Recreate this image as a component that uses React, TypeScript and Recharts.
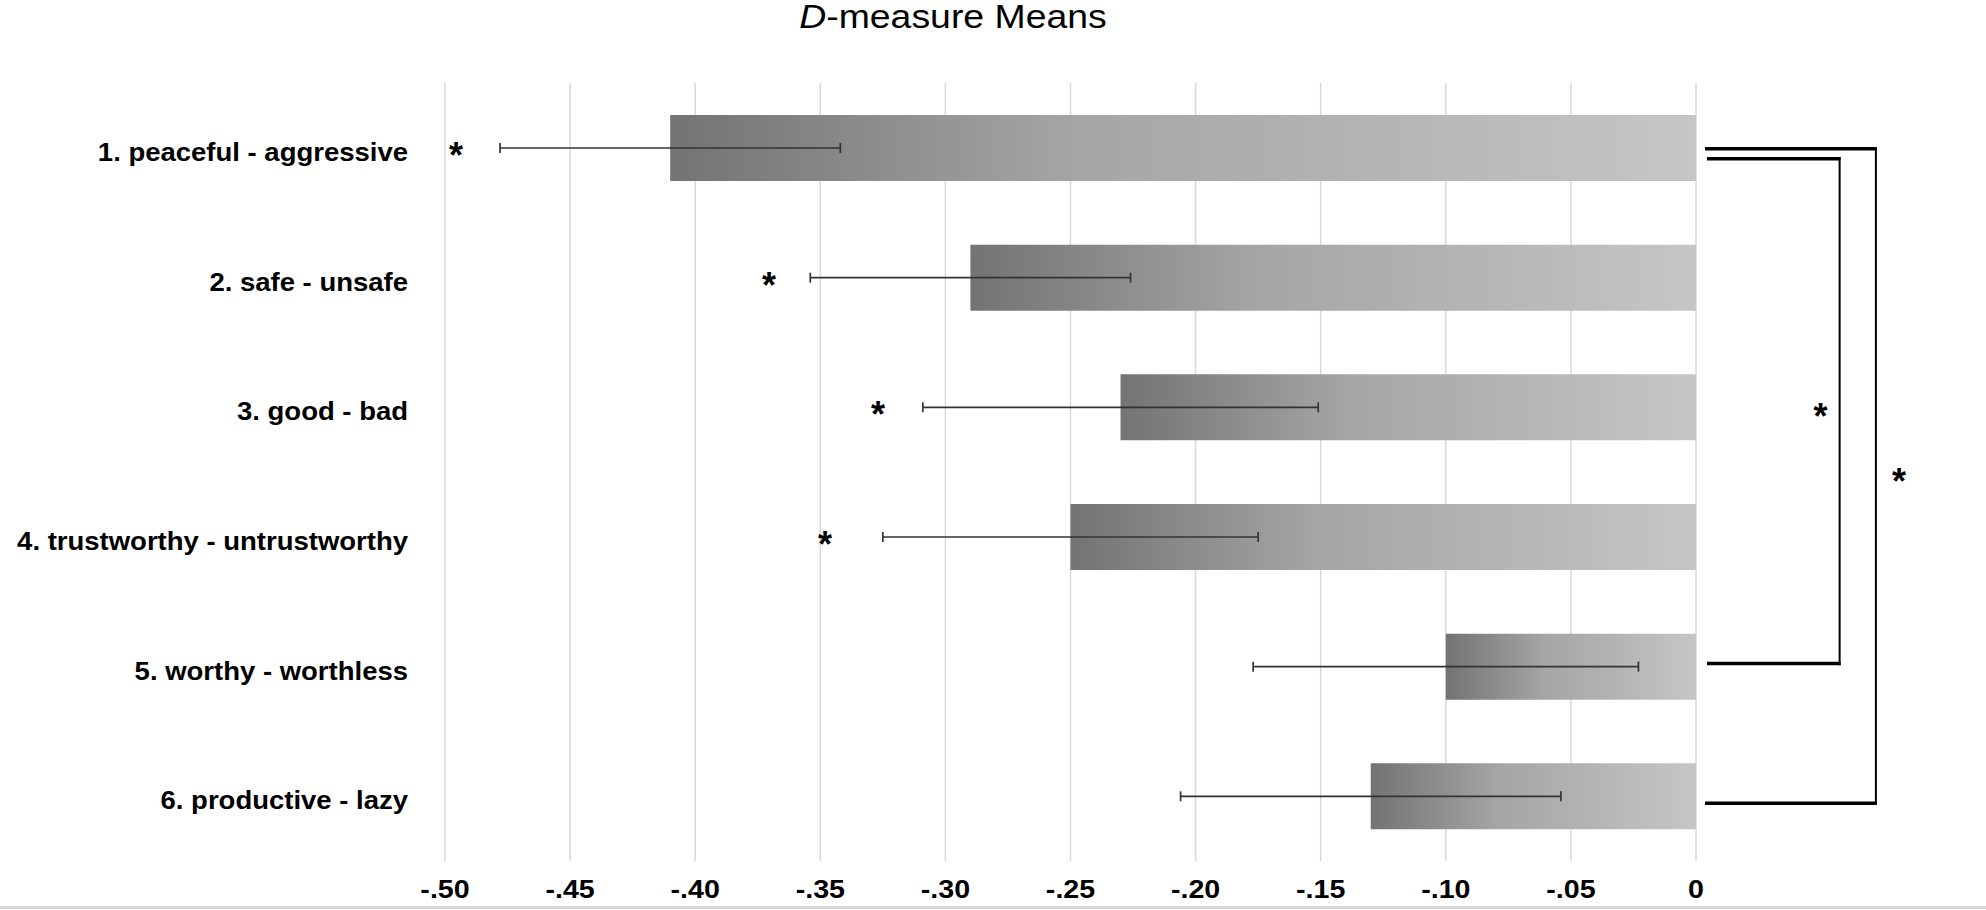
import { BarChart, Bar, XAxis, YAxis, CartesianGrid, ErrorBar, ReferenceLine, ReferenceDot } from 'recharts'

const categories = [
  '1. peaceful - aggressive',
  '2. safe - unsafe',
  '3. good - bad',
  '4. trustworthy - untrustworthy',
  '5. worthy - worthless',
  '6. productive - lazy',
]
const means = [-0.41, -0.29, -0.23, -0.25, -0.1, -0.13]
const errors = [0.068, 0.064, 0.079, 0.075, 0.077, 0.076]
const xTicks = [-0.5, -0.45, -0.4, -0.35, -0.3, -0.25, -0.2, -0.15, -0.1, -0.05, 0]

// significance asterisks beside single items (x in D units)
const itemStarItem = [0, 1, 2, 3]
const itemStarX = [-0.4956, -0.3705, -0.3269, -0.3481]

// comparison brackets on the right: item 1 vs 6, item 1 vs 5
const bracketFrom = [0, 0]
const bracketTo = [5, 4]
const bracketStart = [0.0036, 0.0044]
const bracketEnd = [0.0719, 0.0574]

const data = categories.map((name, i) => ({ name, mean: means[i], err: errors[i] }))

const FONT = '"Liberation Sans", Arial, sans-serif'
const STRETCH = 1.1
// small pixel nudges so the two brackets don't sit on top of each other
const NUDGE_TOP = [1, 11]
const NUDGE_BOTTOM = [7, -3]
const STAR_SIDE = [23, -19]

function fmtTick(v: number) {
  if (v === 0) return '0'
  return '-.' + String(Math.round(Math.abs(v) * 100)).padStart(2, '0')
}

function XTick({ x, y, payload }: any) {
  return (
    <text transform={`translate(${x},${y + 37}) scale(${STRETCH},1)`} textAnchor="middle"
      fontFamily={FONT} fontWeight="bold" fontSize={26} fill="#000">
      {fmtTick(payload.value)}
    </text>
  )
}

function YTick({ x, y, payload }: any) {
  return (
    <text transform={`translate(${x - 37},${y + 13}) scale(${STRETCH},1)`} textAnchor="end"
      fontFamily={FONT} fontWeight="bold" fontSize={25} fill="#000">
      {payload.value}
    </text>
  )
}

function starText(cx: number, cy: number) {
  return (
    <text x={cx} y={cy + 20} textAnchor="middle" fontFamily={FONT} fontWeight="bold" fontSize={36} fill="#000">
      *
    </text>
  )
}

function ItemStar({ cx, cy }: any) {
  return starText(cx, cy)
}

const hSeg = (dy: number) => (p: any) => (
  <line x1={p.x1} y1={p.y1 + dy} x2={p.x2 + 1} y2={p.y2 + dy} stroke="#000" strokeWidth={3.5} />
)

const vSeg = (i: number) => (p: any) => {
  const top = p.y1 + NUDGE_TOP[i] - 1.75
  const bottom = p.y2 + NUDGE_BOTTOM[i] + 1.75
  return (
    <g>
      <line x1={p.x1} y1={top} x2={p.x2} y2={bottom} stroke="#000" strokeWidth={2} />
      {starText(p.x1 + STAR_SIDE[i], (top + bottom) / 2 - 2)}
    </g>
  )
}

export default function App() {
  return (
    <div style={{ position: 'absolute', left: 0, top: 0, width: 1986, height: 910, background: '#fff' }}>
      <div style={{
        position: 'absolute', left: 0, top: -1, width: 1906, textAlign: 'center',
        fontFamily: FONT, fontSize: 34, lineHeight: '34px', color: '#000',
        transform: `scaleX(${STRETCH})`, transformOrigin: '953px 0',
      }}>
        <i>D</i>-measure Means
      </div>
      <BarChart
        width={1986}
        height={910}
        data={data}
        layout="vertical"
        barSize={66}
        margin={{ top: 83, right: 290, bottom: 0, left: 0 }}
        style={{ position: 'absolute', left: 0, top: 0 }}
      >
        <defs>
          <linearGradient id="barGrad" x1="0" y1="0" x2="1" y2="0">
            <stop offset="0%" stopColor="#737373" />
            <stop offset="40%" stopColor="#a6a6a6" />
            <stop offset="65%" stopColor="#b2b2b2" />
            <stop offset="100%" stopColor="#c6c6c6" />
          </linearGradient>
        </defs>
        <CartesianGrid horizontal={false} stroke="#d9d9d9" strokeWidth={1.5} />
        <XAxis type="number" domain={[-0.5, 0]} ticks={xTicks} allowDataOverflow
          axisLine={false} tickLine={false} tickSize={0} tickMargin={0} height={49}
          tick={<XTick />} interval={0} />
        <YAxis type="category" dataKey="name" width={445} axisLine={false} tickLine={false}
          tickSize={0} tickMargin={0} tick={<YTick />} interval={0} />
        <Bar dataKey="mean" fill="url(#barGrad)" isAnimationActive={false}>
          <ErrorBar dataKey="err" direction="x" width={5} stroke="#333" strokeWidth={1.7} isAnimationActive={false} />
        </Bar>
        {bracketFrom.map((from, i) => (
          <ReferenceLine key={`bt${i}`} ifOverflow="visible" shape={hSeg(NUDGE_TOP[i])}
            segment={[{ x: bracketStart[i], y: categories[from] }, { x: bracketEnd[i], y: categories[from] }]} />
        ))}
        {bracketFrom.map((from, i) => (
          <ReferenceLine key={`bv${i}`} ifOverflow="visible" shape={vSeg(i)}
            segment={[{ x: bracketEnd[i], y: categories[from] }, { x: bracketEnd[i], y: categories[bracketTo[i]] }]} />
        ))}
        {bracketTo.map((to, i) => (
          <ReferenceLine key={`bb${i}`} ifOverflow="visible" shape={hSeg(NUDGE_BOTTOM[i])}
            segment={[{ x: bracketStart[i], y: categories[to] }, { x: bracketEnd[i], y: categories[to] }]} />
        ))}
        {itemStarItem.map((item, i) => (
          <ReferenceDot key={`is${i}`} x={itemStarX[i]} y={categories[item]} r={0} ifOverflow="visible" shape={<ItemStar />} />
        ))}
      </BarChart>
      <div style={{ position: 'absolute', left: 0, top: 906, width: 1986, height: 3, background: '#d8d8d8' }} />
    </div>
  )
}
